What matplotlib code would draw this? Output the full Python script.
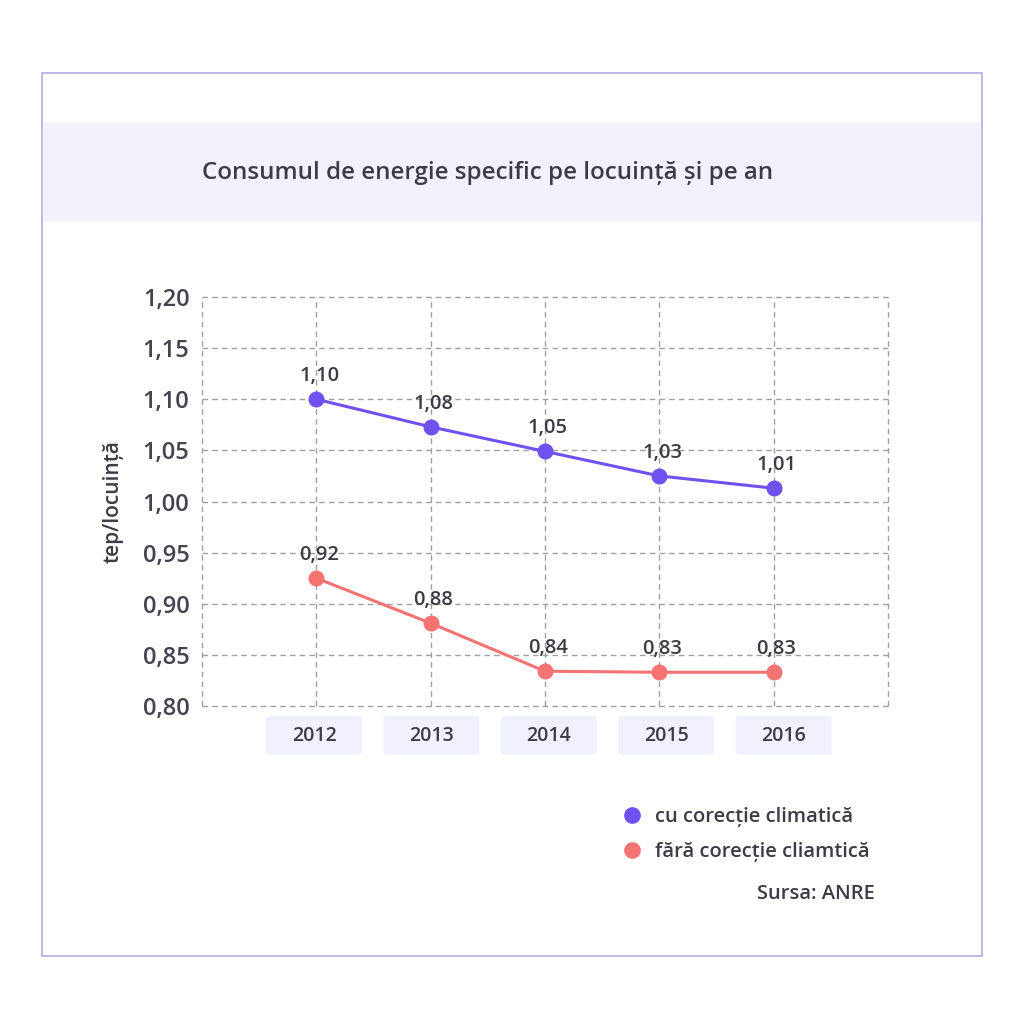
import matplotlib
matplotlib.use("Agg")
import matplotlib.pyplot as plt
from matplotlib.patches import Rectangle, FancyBboxPatch
from matplotlib.lines import Line2D
from matplotlib.ticker import FuncFormatter, MultipleLocator
import matplotlib.transforms as mtransforms

plt.rcParams['font.family'] = ['Open Sans', 'DejaVu Sans']

years = [2012, 2013, 2014, 2015, 2016]
year_labels = ["2012", "2013", "2014", "2015", "2016"]
cu_corectie = [1.100, 1.073, 1.049, 1.025, 1.013]
cu_labels = ["1,10", "1,08", "1,05", "1,03", "1,01"]
fara_corectie = [0.925, 0.881, 0.834, 0.833, 0.833]
fara_labels = ["0,92", "0,88", "0,84", "0,83", "0,83"]
series_names = ["cu corecție climatică", "fără corecție cliamtică"]
title = "Consumul de energie specific pe locuință și pe an"
ylabel = "tep/locuință"
source = "Sursa: ANRE"

PURPLE = "#7050EE"
RED = "#F57373"
TEXT = "#3C3C46"
GRID = "#A0A0A0"
WEIGHT = "semibold"
BOX_SPREAD = 1.027   # tick-box band is spaced slightly wider than the grid

fig = plt.figure(figsize=(10.24, 10.24), dpi=100)
fig.patch.set_facecolor("white")
W = H = 1024.0

# outer border
fig.patches.append(Rectangle((42 / W, 1 - 956 / H), 940 / W, 883 / H, transform=fig.transFigure,
                             facecolor="none", edgecolor="#B4AEE0", linewidth=1.2, zorder=-2))
# title band
fig.patches.append(Rectangle((43 / W, 1 - 222 / H), 938 / W, 100 / H, transform=fig.transFigure,
                             facecolor="#F2F2FD", edgecolor="none", zorder=-1))
fig.text(488 / W, 1 - 173 / H, title, ha="center", va="center", fontsize=17.4, color=TEXT,
         fontweight=WEIGHT)

ax = fig.add_axes([202 / W, 1 - 706 / H, 686 / W, 409 / H])
ax.set_facecolor("none")
ax.set_xlim(2011, 2017)
ax.set_ylim(0.80, 1.20)
for s in ax.spines.values():
    s.set_visible(False)
ax.yaxis.set_major_locator(MultipleLocator(0.05))
ax.yaxis.set_major_formatter(FuncFormatter(lambda v, p: f"{v:.2f}".replace(".", ",")))
ax.set_xticks(list(range(2011, 2018)))
ax.set_xticklabels([])
ax.tick_params(axis="both", length=0)
ax.tick_params(axis="y", labelsize=17, labelcolor="#444450", pad=9)
for lab in ax.get_yticklabels():
    lab.set_fontweight(WEIGHT)
ax.grid(True, color=GRID, linestyle=(0, (4, 3)), linewidth=1.0)
ax.set_axisbelow(True)
for gl in ax.get_xgridlines() + ax.get_ygridlines():
    gl.set_clip_on(False)

ax.plot(years, cu_corectie, color=PURPLE, linewidth=2.2, marker="o", markersize=10.5, zorder=3, clip_on=False)
ax.plot(years, fara_corectie, color=RED, linewidth=2.2, marker="o", markersize=10.5, zorder=3, clip_on=False)

for x, y, t in zip(years, cu_corectie, cu_labels):
    ax.annotate(t, (x, y), xytext=(2, 13), textcoords="offset points", ha="center", va="baseline",
                fontsize=14.5, color=TEXT, fontweight=WEIGHT)
for x, y, t in zip(years, fara_corectie, fara_labels):
    ax.annotate(t, (x, y), xytext=(2, 13), textcoords="offset points", ha="center", va="baseline",
                fontsize=14.5, color=TEXT, fontweight=WEIGHT)

# year tick boxes
trans = mtransforms.blended_transform_factory(ax.transData, ax.transAxes)
bw = 0.84
for x, t in zip(years, year_labels):
    xc = years[0] - 0.02 + (x - years[0]) * BOX_SPREAD
    box = FancyBboxPatch((xc - bw / 2, -0.119), bw, 0.095, boxstyle="round,pad=0,rounding_size=0.05",
                         transform=trans, facecolor="#F0F1FC", edgecolor="none", clip_on=False,
                         mutation_aspect=0.12)
    ax.add_patch(box)
    ax.text(xc, -0.0735, t, transform=trans, ha="center", va="center", fontsize=14, color=TEXT,
            fontweight=WEIGHT)

ax.set_ylabel(ylabel, fontsize=15, color=TEXT, fontweight=WEIGHT)
ax.yaxis.set_label_coords(-0.114, 0.5)

handles = [Line2D([], [], color=PURPLE, marker="o", linestyle="none", markersize=11),
           Line2D([], [], color=RED, marker="o", linestyle="none", markersize=11)]
fig.legend(handles, series_names, loc="upper left", bbox_to_anchor=(622 / W, 1 - 807 / H),
           frameon=False, prop={"size": 14.5, "weight": WEIGHT}, labelcolor=TEXT,
           handletextpad=0.65, labelspacing=0.75, handlelength=1.0, borderaxespad=0, borderpad=0)
fig.text(875 / W, 1 - 894 / H, source, ha="right", va="center", fontsize=14.5, color=TEXT,
         fontweight=WEIGHT)

fig.savefig("out.png", dpi=100, facecolor="white")
